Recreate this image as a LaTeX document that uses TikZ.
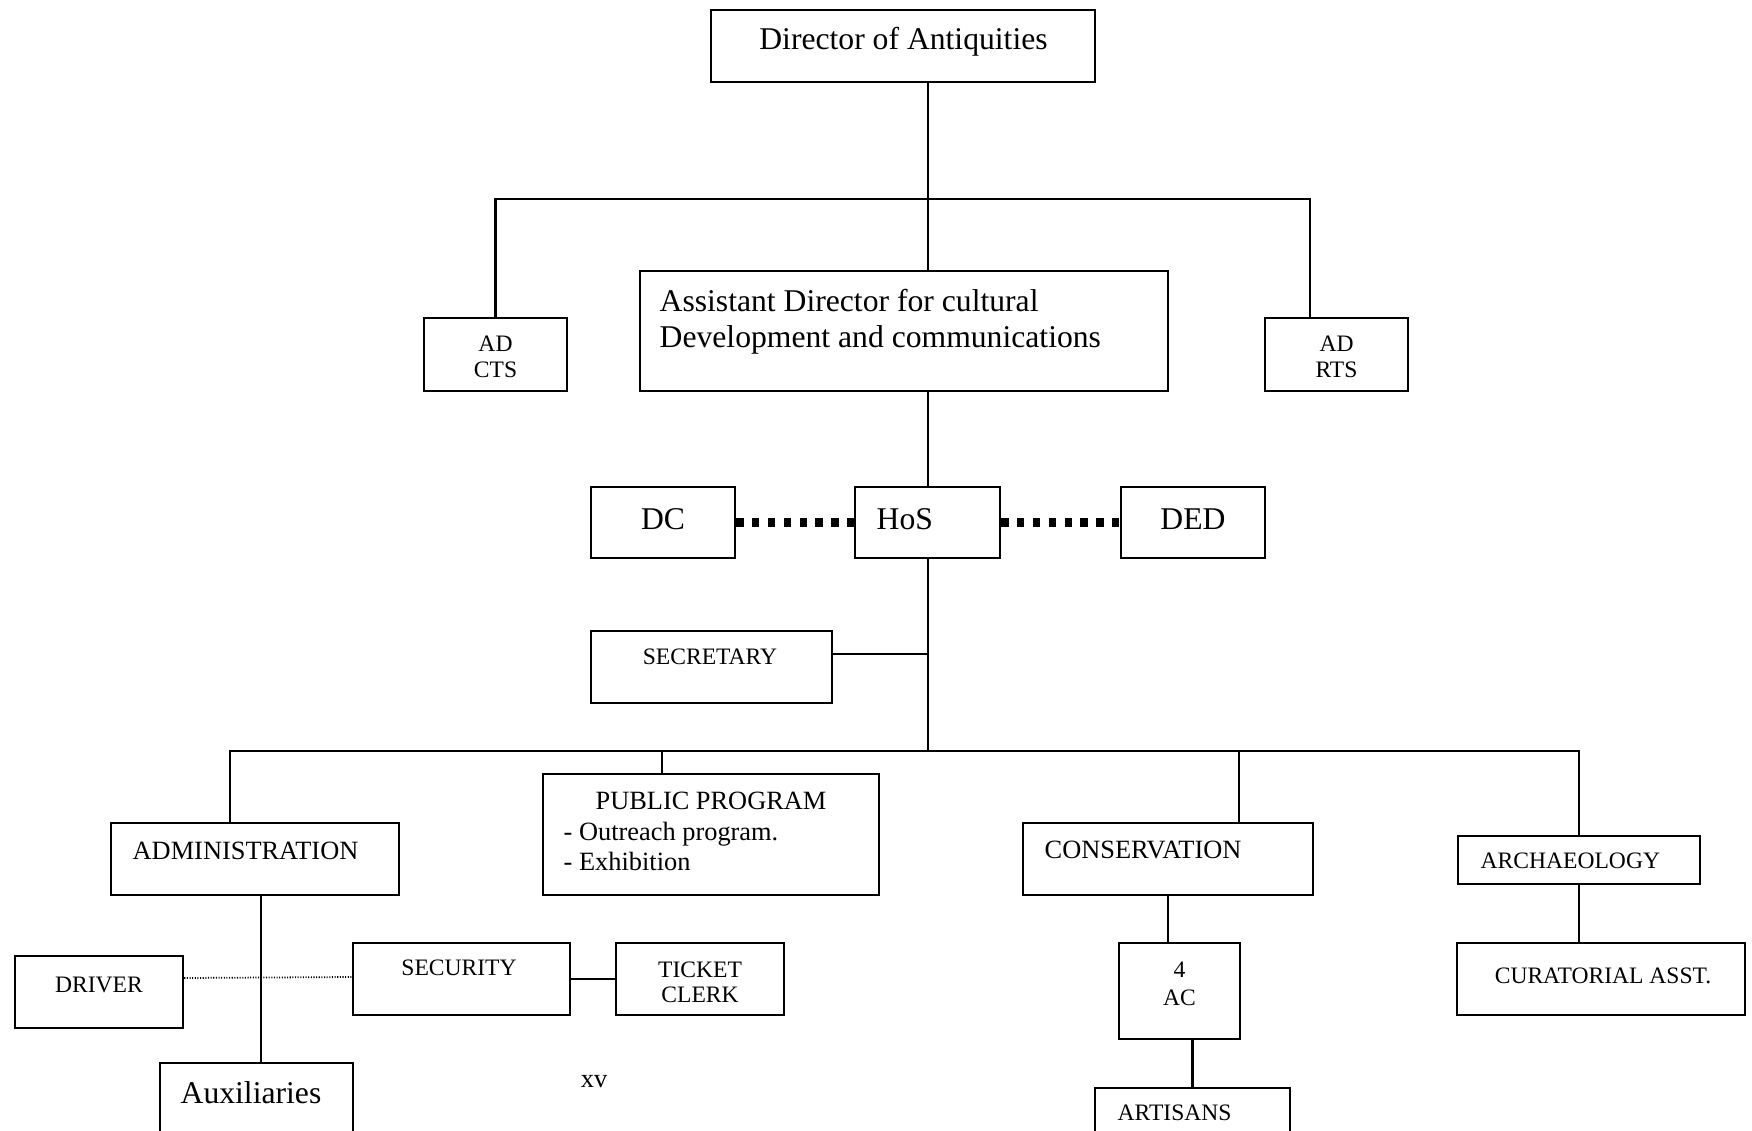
\documentclass[tikz,border=0pt]{standalone}
\usepackage{fontspec}
\setmainfont{Liberation Serif}
\usetikzlibrary{positioning,calc}

\tikzset{
  box/.style={draw, line width=0.7pt, inner sep=0pt},
  boxsize/.style 2 args={minimum width=#1*0.01cm, minimum height=#2*0.01cm},
  big/.style={font=\fontsize{9}{10.8}\selectfont, inner sep=0pt},
  mid/.style={font=\fontsize{7.5}{8.6}\selectfont, inner sep=0pt},
  small/.style={font=\fontsize{6.7}{7.4}\selectfont, inner sep=0pt},
  link/.style={line width=0.6pt},
  deputy/.style={line width=2.4pt, dash pattern=on 2.1pt off 2.4pt},
  aide/.style={line width=0.5pt, dash pattern=on 0.3pt off 0.45pt},
}

\begin{document}
\begin{tikzpicture}[x=0.01cm, y=-0.01cm]
  \clip (0,0) rectangle (1752,1131);
  \coordinate (spine) at (928,0);
  \coordinate (topbar) at (928,199);
  \coordinate (secbar) at (928,654);
  \coordinate (lowbar) at (928,751);

  \node[box, boxsize={384}{72}] (dir) at (903,46) {};
  \node[box, boxsize={528}{120}] (ass) at (904,331) {};
  \node[box, boxsize={143}{73}] (adc) at (495.5,354.5) {};
  \node[box, boxsize={143}{73}] (adr) at (1336.5,354.5) {};
  \node[box, boxsize={144}{71}] (dc) at (663,522.5) {};
  \node[box, boxsize={145}{71}] (hos) at (927.5,522.5) {};
  \node[box, boxsize={144}{71}] (ded) at (1193,522.5) {};
  \node[box, boxsize={241}{72}] (sec) at (711.5,667) {};
  \node[box, boxsize={288}{72}] (adm) at (255,859) {};
  \node[box, boxsize={336}{121}] (pub) at (711,834.5) {};
  \node[box, boxsize={290}{72}] (con) at (1168,859) {};
  \node[box, boxsize={242}{48}] (arc) at (1579,860) {};
  \node[box, boxsize={168}{72}] (drv) at (99,992) {};
  \node[box, boxsize={217}{72}] (secu) at (461.5,979) {};
  \node[box, boxsize={168}{72}] (tic) at (700,979) {};
  \node[box, boxsize={121}{96}] (ac) at (1179.5,991) {};
  \node[box, boxsize={195}{62}] (art) at (1192.5,1119) {};
  \node[box, boxsize={288}{72}] (cur) at (1601,979) {};
  \node[box, boxsize={193}{87}] (aux) at (256.5,1106.5) {};

  \node[big, anchor=base] (dirT) at (903.5,50) {Director of Antiquities};
  \node[big, anchor=base west] (assA) at (659,312) {Assistant Director for cultural};
  \node[big, anchor=base west] (assB) at (659,348) {Development and communications};
  \node[small, anchor=base] (adcA) at (495.5,352) {AD};
  \node[small, anchor=base] (adcB) at (495.5,378) {CTS};
  \node[small, anchor=base] (adrA) at (1336.5,352) {AD};
  \node[small, anchor=base] (adrB) at (1336.5,378) {RTS};
  \node[big, anchor=base] (dcT) at (663,530) {DC};
  \node[big, anchor=base west] (hosT) at (876,530) {HoS};
  \node[big, anchor=base] (dedT) at (1193,530) {DED};
  \node[small, anchor=base] (secT) at (710,664) {SECRETARY};
  \node[mid, anchor=base west] (admT) at (132,859) {ADMINISTRATION};
  \node[mid, anchor=base] (pubT) at (711,809) {PUBLIC PROGRAM};
  \node[mid, anchor=base west] (pubA) at (563,840) {- Outreach program.};
  \node[mid, anchor=base west] (pubB) at (563,870) {- Exhibition};
  \node[mid, anchor=base west] (conT) at (1044,858) {CONSERVATION};
  \node[small, anchor=base west] (arcT) at (1480,868) {ARCHAEOLOGY};
  \node[small, anchor=base] (drvT) at (99,992) {DRIVER};
  \node[small, anchor=base] (secuT) at (459,975) {SECURITY};
  \node[small, anchor=base] (ticA) at (700,977) {TICKET};
  \node[small, anchor=base] (ticB) at (700,1002) {CLERK};
  \node[small, anchor=base] (acA) at (1179.5,977) {4};
  \node[small, anchor=base] (acB) at (1179.5,1005) {AC};
  \node[small, anchor=base west] (artT) at (1117,1120) {ARTISANS};
  \node[small, anchor=base] (curT) at (1603,983) {CURATORIAL ASST.};
  \node[big, anchor=base] (auxT) at (251,1103) {Auxiliaries};
  \node[mid, anchor=base] (page) at (594,1087) {xv};

  \draw[link]
  (spine |- dir.south) -- (spine |- ass.north)
  (adc.north) |- (topbar) -| ($(adr.north west)+(46,0)$)
  (spine |- ass.south) -- (spine |- hos.north)
  (spine |- hos.south) -- (lowbar)
  (sec.east |- secbar) -- (secbar)
  ($(adm.north west)+(120,0)$) |- (lowbar) -| (arc.north)
  ($(pub.north west)+(120,0)$) -- ($(pub.north west)+(120,-23)$)
  ($(con.north west)+(217,0)$) -- ($(con.north west)+(217,-72)$)
  (261,0 |- adm.south) -- (261,0 |- aux.north)
  (secu.east) -- (tic.west)
  (con.south) -- (con.south |- ac.north)
  (art.north |- ac.south) -- (art.north)
  (arc.south) -- (arc.south |- cur.north);
  \draw[deputy] (dc.east) -- (hos.west);
  \draw[deputy] (hos.east) -- (ded.west);
  \draw[aide] ($(drv.east)+(0,-14)$) -- ($(secu.west)+(0,-2)$);
\end{tikzpicture}
\end{document}
